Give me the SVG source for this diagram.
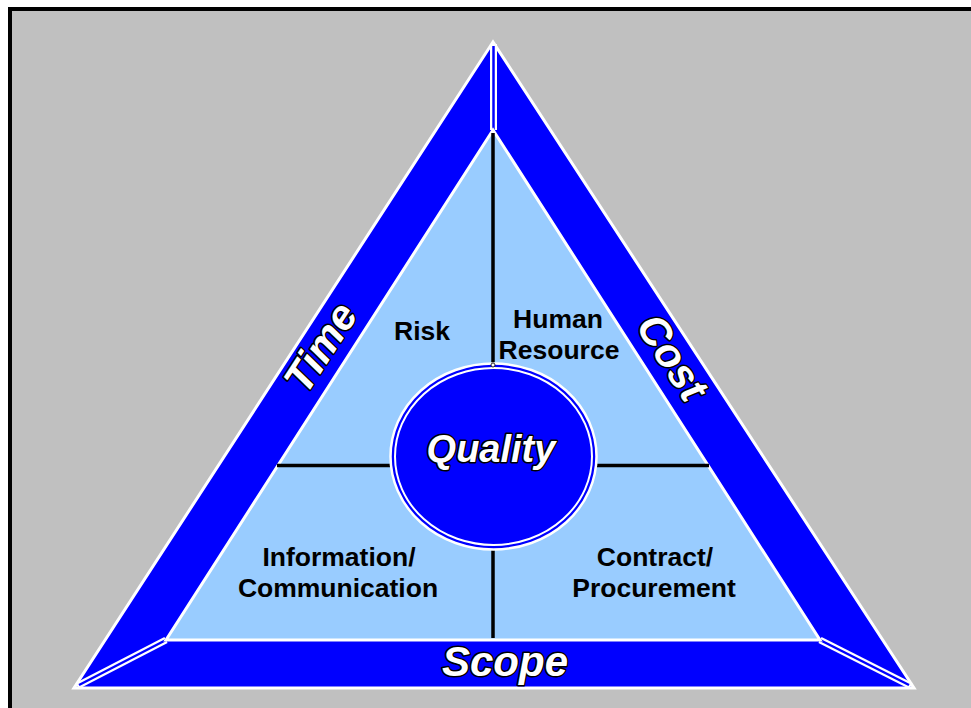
<svg xmlns="http://www.w3.org/2000/svg" width="971" height="708" viewBox="0 0 971 708">
  <style>
    .band { fill: #0000FF; stroke: #FFFFFF; stroke-width: 3; stroke-linejoin: miter; }
    .inner { fill: #99CCFF; stroke: #FFFFFF; stroke-width: 3; }
    .seam-w { stroke: #FFFFFF; stroke-width: 7; }
    .seam-b { stroke: #0000FF; stroke-width: 2.5; }
    .divider { stroke: #000000; stroke-width: 3.5; }
    .label { font-family: "Liberation Sans", Arial, sans-serif; font-weight: bold; font-size: 26.5px; fill: #000000; text-anchor: middle; }
    .title { font-family: "Liberation Sans", Arial, sans-serif; font-weight: bold; font-style: italic; font-size: 38px; fill: #FFFFFF; stroke: #000000; stroke-width: 3; paint-order: stroke; stroke-linejoin: round; text-anchor: middle; }
    .side { font-size: 42px; }
  </style>

  <!-- page and frame -->
  <rect x="0" y="0" width="971" height="708" fill="#FFFFFF"/>
  <rect x="10" y="9" width="1000" height="1000" fill="#C0C0C0" stroke="#000000" stroke-width="4"/>

  <!-- outer band: time / cost / scope -->
  <g id="band">
    <polygon class="band" points="493,42 74,688 914,688"/>
    <line class="seam-w" x1="493.5" y1="44" x2="493.5" y2="130"/>
    <line class="seam-b" x1="493.5" y1="46" x2="493.5" y2="130"/>
    <line class="seam-w" x1="77" y1="686" x2="166" y2="640"/>
    <line class="seam-b" x1="79" y1="685" x2="166" y2="640"/>
    <line class="seam-w" x1="911" y1="686" x2="820" y2="640"/>
    <line class="seam-b" x1="909" y1="685" x2="820" y2="640"/>
  </g>

  <!-- inner knowledge area -->
  <g id="areas">
    <polygon class="inner" points="493,130 166,640 820,640"/>
  </g>

  <g id="connectors">
    <line class="divider" x1="493" y1="133" x2="493" y2="364"/>
    <line class="divider" x1="493" y1="550" x2="493" y2="638"/>
    <line class="divider" x1="277" y1="465.5" x2="390" y2="465.5"/>
    <line class="divider" x1="597" y1="465.5" x2="709" y2="465.5"/>
  </g>

  <g id="quality">
    <ellipse cx="493.5" cy="456.5" rx="103" ry="93" fill="#0000FF" stroke="#FFFFFF" stroke-width="2.5"/>
    <ellipse cx="493.5" cy="456.5" rx="98.5" ry="88.5" fill="#0000FF" stroke="#FFFFFF" stroke-width="2"/>
    <circle cx="493" cy="365" r="2" fill="#FFFFFF" stroke="#000000" stroke-width="0.8"/>
    <text class="title" x="491" y="462">Quality</text>
  </g>

  <g id="time">
    <text class="title side" transform="translate(320,347) rotate(-57)" y="15">Time</text>
  </g>
  <g id="cost">
    <text class="title side" transform="translate(673,357) rotate(57)" y="15">Cost</text>
  </g>
  <g id="scope">
    <text class="title side" x="505" y="676">Scope</text>
  </g>

  <g id="risk">
    <text class="label" x="422" y="340">Risk</text>
  </g>
  <g id="human-resource">
    <text class="label" x="558" y="328">Human</text>
    <text class="label" x="559" y="359">Resource</text>
  </g>
  <g id="information-communication">
    <text class="label" x="339" y="566">Information/</text>
    <text class="label" x="338" y="597">Communication</text>
  </g>
  <g id="contract-procurement">
    <text class="label" x="655" y="566">Contract/</text>
    <text class="label" x="654" y="597">Procurement</text>
  </g>
</svg>
